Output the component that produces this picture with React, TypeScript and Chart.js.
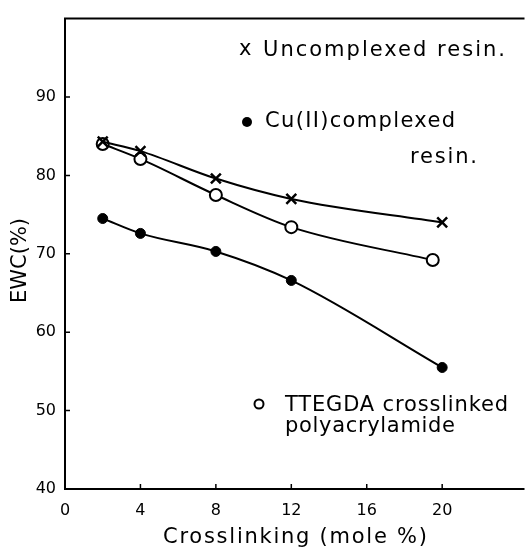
import React, { useEffect, useRef } from "react";
import { Chart, registerables } from "chart.js";

Chart.register(...registerables);

const xTickValues = [0, 4, 8, 12, 16, 20];
const yTickValues = [40, 50, 60, 70, 80, 90];

const uncomplexedX = [2, 4, 8, 12, 20];
const uncomplexedY = [84.3, 83.1, 79.6, 77.0, 74.0];

const cuComplexedX = [2, 4, 8, 12, 20];
const cuComplexedY = [74.5, 72.6, 70.3, 66.6, 55.5];

const ttegdaX = [2, 4, 8, 12, 19.5];
const ttegdaY = [84.0, 82.1, 77.5, 73.4, 69.2];

const FONT = "'DejaVu Sans', sans-serif";

const toPoints = (xs: number[], ys: number[]) => xs.map((x, i) => ({ x, y: ys[i] }));

function fitText(ctx: any, text: string, x: number, y: number, width: number) {
  ctx.letterSpacing = "0px";
  const w = ctx.measureText(text).width;
  const sp = Math.max(0, (width - w) / Math.max(1, text.length - 1));
  ctx.letterSpacing = `${sp.toFixed(2)}px`;
  ctx.fillText(text, x, y);
  ctx.letterSpacing = "0px";
}

const framePlugin = {
  id: "frame",
  afterDraw(chart: any) {
    const ctx = chart.ctx;
    const { left, right, top, bottom } = chart.chartArea;
    const xs = chart.scales.x;
    const ys = chart.scales.y;
    ctx.save();
    ctx.strokeStyle = "#000";
    ctx.lineWidth = 2;
    ctx.beginPath();
    ctx.moveTo(right + 5, top);
    ctx.lineTo(left, top);
    ctx.lineTo(left, bottom);
    ctx.lineTo(right + 5, bottom);
    ctx.stroke();
    ctx.lineWidth = 1.5;
    ctx.beginPath();
    yTickValues.forEach((v) => {
      const py = ys.getPixelForValue(v);
      ctx.moveTo(left, py);
      ctx.lineTo(left + 5, py);
    });
    xTickValues.forEach((v) => {
      const px = xs.getPixelForValue(v);
      ctx.moveTo(px, bottom);
      ctx.lineTo(px, bottom - 5);
    });
    ctx.stroke();

    ctx.fillStyle = "#000";
    ctx.textBaseline = "middle";
    ctx.textAlign = "left";
    ctx.font = `21px ${FONT}`;
    ctx.fillText("x", 239, 50);
    fitText(ctx, "Uncomplexed resin.", 263, 51, 242);
    ctx.beginPath();
    ctx.arc(247, 122, 5, 0, Math.PI * 2);
    ctx.fill();
    fitText(ctx, "Cu(II)complexed", 265, 122, 190);
    fitText(ctx, "resin.", 410, 158, 67);
    ctx.beginPath();
    ctx.lineWidth = 2;
    ctx.arc(259, 404, 4.5, 0, Math.PI * 2);
    ctx.stroke();
    fitText(ctx, "TTEGDA crosslinked", 285, 406, 223);
    fitText(ctx, "polyacrylamide", 285, 427, 170);

    // axis titles
    fitText(ctx, "Crosslinking (mole %)", 163, 538, 264);
    ctx.save();
    ctx.translate(21, 262);
    ctx.rotate(-Math.PI / 2);
    ctx.textAlign = "left";
    fitText(ctx, "EWC(%)", -41, 0, 82);
    ctx.restore();
    ctx.restore();
  },
};

export default function App() {
  const ref = useRef<HTMLCanvasElement>(null);
  useEffect(() => {
    if (!ref.current) return;
    const chart = new Chart(ref.current, {
      type: "line",
      data: {
        datasets: [
          {
            label: "Uncomplexed resin",
            data: toPoints(uncomplexedX, uncomplexedY),
            borderColor: "#000",
            borderWidth: 2,
            pointStyle: "crossRot",
            pointRadius: 7,
            pointBorderWidth: 2.5,
            pointBorderColor: "#000",
            pointBackgroundColor: "#000",
            cubicInterpolationMode: "monotone",
            fill: false,
          },
          {
            label: "Cu(II) complexed resin",
            data: toPoints(cuComplexedX, cuComplexedY),
            borderColor: "#000",
            borderWidth: 2,
            pointStyle: "circle",
            pointRadius: 5,
            pointBorderWidth: 1,
            pointBorderColor: "#000",
            pointBackgroundColor: "#000",
            cubicInterpolationMode: "monotone",
            fill: false,
          },
          {
            label: "TTEGDA crosslinked polyacrylamide",
            data: toPoints(ttegdaX, ttegdaY),
            borderColor: "#000",
            borderWidth: 2,
            pointStyle: "circle",
            pointRadius: 6,
            pointBorderWidth: 2,
            pointBorderColor: "#000",
            pointBackgroundColor: "#fff",
            cubicInterpolationMode: "monotone",
            fill: false,
          },
        ],
      },
      options: {
        responsive: false,
        animation: false,
        devicePixelRatio: 1,
        layout: { padding: { top: 13, right: 0, left: 0, bottom: 0 } },
        plugins: { legend: { display: false }, tooltip: { enabled: false } },
        scales: {
          x: {
            type: "linear",
            min: 0,
            max: 24.1,
            afterBuildTicks: (s: any) => {
              s.ticks = xTickValues.map((v) => ({ value: v }));
            },
            afterFit: (s: any) => {
              s.height = 65;
            },
            grid: { display: false, drawTicks: false },
            border: { display: false },
            ticks: {
              color: "#000",
              font: { family: FONT, size: 16 },
              padding: 12,
              maxRotation: 0,
              callback: (v: any) => String(v),
            },
            title: { display: false },
          },
          y: {
            type: "linear",
            min: 40,
            max: 100,
            afterBuildTicks: (s: any) => {
              s.ticks = yTickValues.map((v) => ({ value: v }));
            },
            afterFit: (s: any) => {
              s.width = 65;
            },
            grid: { display: false, drawTicks: false },
            border: { display: false },
            ticks: {
              color: "#000",
              font: { family: FONT, size: 16 },
              padding: 9,
              callback: (v: any) => String(v),
            },
            title: { display: false },
          },
        },
      },
      plugins: [framePlugin],
    } as any);
    return () => chart.destroy();
  }, []);
  return (
    <div style={{ position: "fixed", left: 0, top: 0, width: 529, height: 554, background: "#fff" }}>
      <canvas ref={ref} width={529} height={554} />
    </div>
  );
}
